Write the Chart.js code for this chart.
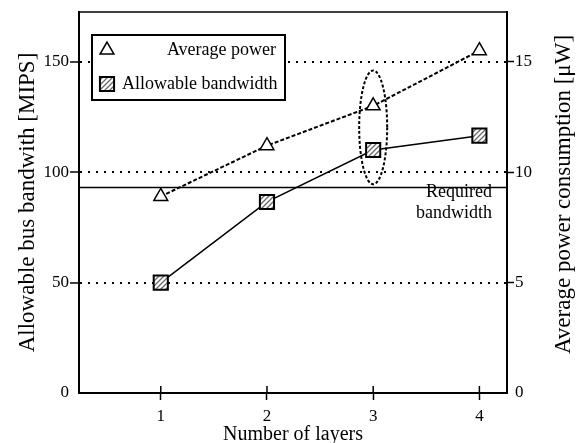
<!DOCTYPE html>
<html>
<head>
<meta charset="utf-8">
<script src="https://cdn.jsdelivr.net/npm/chart.js@4.4.1/dist/chart.umd.min.js"></script>
<style>
  html, body { margin: 0; padding: 0; background: #fff; }
  #wrap { width: 578px; height: 443px; }
</style>
</head>
<body>
<div id="wrap"><canvas id="chart" width="578" height="443"></canvas></div>
<script>
// values
const layers = [1, 2, 3, 4];
const bandwidth = [50, 86.5, 110, 116.5];   // MIPS, left axis
const avgPower = [8.9, 11.2, 13.0, 15.5];   // uW, right axis
const requiredBandwidth = 93;               // MIPS
const bwTicks = [0, 50, 100, 150];
const powerTicks = [0, 5, 10, 15];
const highlightLayer = 3;
const highlightRange = [94.5, 146];         // MIPS span of the dashed ellipse

const FONT = '"Liberation Serif", "Times New Roman", serif';

// grey diagonal hatch for the squares
function makeHatch() {
    const c = document.createElement('canvas');
    c.width = 5; c.height = 5;
    const g = c.getContext('2d');
    g.fillStyle = '#fff';
    g.fillRect(0, 0, 5, 5);
    g.strokeStyle = '#6a6a6a';
    g.lineWidth = 1.3;
    g.beginPath();
    g.moveTo(-1, 6); g.lineTo(6, -1);
    g.moveTo(-3, 3); g.lineTo(3, -3);
    g.moveTo(2, 8); g.lineTo(8, 2);
    g.stroke();
    return g.createPattern(c, 'repeat');
}
const hatch = makeHatch();

const noZero = c => (c.tick && c.tick.value === 0) ? 'rgba(0,0,0,0)' : '#000';

const extras = {
    id: 'extras',
    afterDatasetsDraw(chart) {
        const { ctx, chartArea: a, scales } = chart;
        const y = scales.yBw;
        ctx.save();
        // required bandwidth line + label
        const ry = y.getPixelForValue(requiredBandwidth);
        ctx.strokeStyle = '#000';
        ctx.lineWidth = 1.5;
        ctx.beginPath();
        ctx.moveTo(a.left, ry);
        ctx.lineTo(a.right, ry);
        ctx.stroke();
        ctx.fillStyle = '#000';
        ctx.font = '18px ' + FONT;
        ctx.textAlign = 'right';
        ctx.textBaseline = 'alphabetic';
        ctx.fillText('Required', a.right - 15, ry + 9);
        ctx.fillText('bandwidth', a.right - 15, ry + 30);

        // dashed ellipse around layer 3
        const cx = scales.x.getPixelForValue(highlightLayer);
        const top = y.getPixelForValue(highlightRange[1]);
        const bot = y.getPixelForValue(highlightRange[0]);
        ctx.setLineDash([3, 2]);
        ctx.lineWidth = 2;
        ctx.beginPath();
        ctx.ellipse(cx, (top + bot) / 2, 14, (bot - top) / 2, 0, 0, Math.PI * 2);
        ctx.stroke();
        ctx.restore();
    },
    afterDraw(chart) {
        const { ctx, chartArea: a, scales } = chart;
        ctx.save();
        ctx.strokeStyle = '#000';
        ctx.fillStyle = '#000';

        // top frame line
        ctx.lineWidth = 1.5;
        ctx.beginPath();
        ctx.moveTo(a.left, a.top);
        ctx.lineTo(a.right, a.top);
        ctx.stroke();

        // x ticks also poke into the plot
        scales.x.ticks.forEach(t => {
            const px = scales.x.getPixelForValue(t.value);
            ctx.beginPath();
            ctx.moveTo(px, a.bottom);
            ctx.lineTo(px, a.bottom - 7);
            ctx.stroke();
        });

        // legend box
        const lx = a.left + 13, ly = a.top + 23;
        ctx.fillStyle = '#fff';
        ctx.fillRect(lx, ly, 193, 65);
        ctx.lineWidth = 2;
        ctx.strokeRect(lx, ly, 193, 65);

        ctx.lineWidth = 1.5;
        ctx.fillStyle = '#fff';
        Chart.helpers.drawPoint(ctx, { pointStyle: 'triangle', radius: 8, rotation: 0, borderWidth: 1.5 }, lx + 15, ly + 15);
        ctx.fillStyle = hatch;
        ctx.lineWidth = 2;
        Chart.helpers.drawPoint(ctx, { pointStyle: 'rect', radius: 10, rotation: 0, borderWidth: 2 }, lx + 15, ly + 49);

        ctx.fillStyle = '#000';
        ctx.font = '18px ' + FONT;
        ctx.textBaseline = 'middle';
        ctx.textAlign = 'right';
        ctx.fillText('Average power', lx + 184, ly + 15);
        ctx.textAlign = 'left';
        ctx.fillText('Allowable bandwidth', lx + 30, ly + 49);

        // right axis title reads bottom-to-top
        ctx.font = '23px ' + FONT;
        ctx.textAlign = 'center';
        ctx.translate(564, (a.top + a.bottom) / 2 - 8);
        ctx.rotate(-Math.PI / 2);
        ctx.fillText('Average power consumption [\u03bcW]', 0, 0);
        ctx.restore();
    }
};

new Chart(document.getElementById('chart'), {
    type: 'line',
    data: {
        datasets: [
            {
                label: 'Average power',
                data: layers.map((x, i) => ({ x, y: avgPower[i] })),
                yAxisID: 'yPow',
                borderColor: '#000',
                borderWidth: 2,
                borderDash: [4, 2],
                pointStyle: 'triangle',
                pointRadius: 8,
                pointBackgroundColor: '#fff',
                pointBorderColor: '#000',
                pointBorderWidth: 1.5,
                tension: 0
            },
            {
                label: 'Allowable bandwidth',
                data: layers.map((x, i) => ({ x, y: bandwidth[i] })),
                yAxisID: 'yBw',
                borderColor: '#000',
                borderWidth: 1.5,
                pointStyle: 'rect',
                pointRadius: 10,
                pointBackgroundColor: hatch,
                pointBorderColor: '#000',
                pointBorderWidth: 2,
                tension: 0
            }
        ]
    },
    options: {
        responsive: false,
        animation: false,
        layout: { padding: { top: 10, left: 0, right: 0, bottom: 0 } },
        plugins: { legend: { display: false }, tooltip: { enabled: false } },
        scales: {
            x: {
                type: 'linear',
                min: 0.23,
                max: 4.26,
                afterBuildTicks: s => { s.ticks = layers.map(v => ({ value: v })); },
                afterFit: s => { s.height = 50; },
                ticks: { color: '#000', font: { family: FONT, size: 17 }, padding: 6, autoSkip: false },
                grid: { drawOnChartArea: false, tickLength: 7, tickColor: '#000', tickWidth: 1.5 },
                border: { color: '#000', width: 2 },
                title: { display: true, text: 'Number of layers', color: '#000', font: { family: FONT, size: 20 }, padding: { top: 0, bottom: -4 } }
            },
            yBw: {
                position: 'left',
                min: 0,
                max: 172.5,
                afterBuildTicks: s => { s.ticks = bwTicks.map(v => ({ value: v })); },
                afterFit: s => { s.width = 79; },
                ticks: { color: '#000', font: { family: FONT, size: 17 }, padding: 1 },
                grid: { color: noZero, lineWidth: 2, tickLength: 9, tickColor: noZero, tickWidth: 1.5, tickBorderDash: [] },
                border: { color: '#000', width: 2, dash: [2, 6] },
                title: { display: true, text: 'Allowable bus bandwith [MIPS]', color: '#000', font: { family: FONT, size: 23 }, padding: { top: 14, bottom: 0 } }
            },
            yPow: {
                position: 'right',
                min: 0,
                max: 17.25,
                afterBuildTicks: s => { s.ticks = powerTicks.map(v => ({ value: v })); },
                afterFit: s => { s.width = 71; },
                ticks: { color: '#000', font: { family: FONT, size: 17 }, padding: 1 },
                grid: { drawOnChartArea: false, color: noZero, tickLength: 7, tickColor: noZero, tickWidth: 1.5 },
                border: { color: '#000', width: 2 }
            }
        }
    },
    plugins: [extras]
});
</script>
</body>
</html>
